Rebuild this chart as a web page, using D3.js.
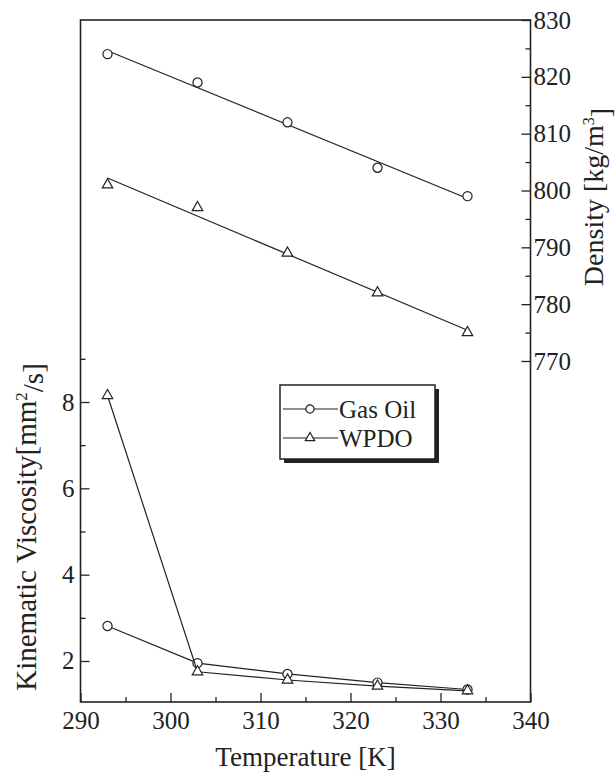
<!DOCTYPE html>
<html>
<head>
<meta charset="utf-8">
<script src="https://cdn.jsdelivr.net/npm/d3@7"></script>
<style>
    body { margin: 0; background: #fff; }
    #chart-area { width: 615px; height: 773px; }
    svg text { font-family: "Liberation Serif", Tinos, "Times New Roman", Times, "DejaVu Serif", serif; fill: #222; }
</style>
</head>
<body>
<div id="chart-area"></div>
<script>
// temperature [K]
let temperatures = [293, 303, 313, 323, 333];
// kinematic viscosity [mm2/s]
let viscGasOil = [2.81, 1.95, 1.70, 1.50, 1.34];
let viscWPDO = [8.15, 1.75, 1.56, 1.42, 1.31];
// density [kg/m3]
let densGasOil = [824, 819, 812, 804, 799];
let densWPDO = [801, 797, 789, 782, 775];

let seriesNames = ["Gas Oil", "WPDO"];

let xTicks = [290, 300, 310, 320, 330, 340];
let xMinorTicks = [295, 305, 315, 325, 335];
let viscTicks = [2, 4, 6, 8];
let viscMinorTicks = [3, 5, 7, 9];
let densTicks = [770, 780, 790, 800, 810, 820, 830];
let densMinorTicks = [775, 785, 795, 805, 815, 825];

const serif = "'Liberation Serif', Tinos, 'Times New Roman', Times, 'DejaVu Serif', serif";

class DualAxisVis {

    constructor(parentElement) {
        this.parentElement = parentElement;
        this.initVis();
    }

    initVis() {
        let vis = this;

        vis.margin = {top: 20, right: 84.5, bottom: 71, left: 80.5};
        vis.width = 615 - vis.margin.left - vis.margin.right;
        vis.height = 773 - vis.margin.top - vis.margin.bottom;

        vis.svg = d3.select("#" + vis.parentElement)
            .append("svg")
            .attr("width", 615)
            .attr("height", 773)
            .append("g")
            .attr("transform", "translate(" + vis.margin.left + "," + vis.margin.top + ")");

        vis.x = d3.scaleLinear().domain([290, 340]).range([0, vis.width]);
        vis.yVisc = d3.scaleLinear().domain([1.05, 16.85]).range([vis.height, 0]);
        vis.yDens = d3.scaleLinear().domain([710, 830]).range([vis.height, 0]);

        vis.symbols = [d3.symbolCircle, d3.symbolTriangle];
        vis.sizes = [66, 48];

        vis.drawAxes();
        vis.drawData();
        vis.drawLegend();
    }

    drawAxes() {
        let vis = this;

        // major + minor ticks, pointing inward
        vis.svg.append("g")
            .attr("class", "x-axis axis")
            .attr("transform", "translate(0," + vis.height + ")")
            .call(d3.axisBottom(vis.x).tickValues(xTicks).tickSizeInner(-9).tickSizeOuter(0).tickPadding(9));
        vis.svg.append("g")
            .attr("transform", "translate(0," + vis.height + ")")
            .call(d3.axisBottom(vis.x).tickValues(xMinorTicks).tickSizeInner(-5).tickSizeOuter(0).tickFormat(""));

        vis.svg.append("g")
            .attr("class", "y-axis axis")
            .call(d3.axisLeft(vis.yVisc).tickValues(viscTicks).tickSizeInner(-9).tickSizeOuter(0).tickPadding(6));
        vis.svg.append("g")
            .call(d3.axisLeft(vis.yVisc).tickValues(viscMinorTicks).tickSizeInner(-5).tickSizeOuter(0).tickFormat(""));

        vis.svg.append("g")
            .attr("class", "y2-axis axis")
            .attr("transform", "translate(" + vis.width + ",0)")
            .call(d3.axisRight(vis.yDens).tickValues(densTicks).tickSizeInner(-9).tickSizeOuter(0).tickPadding(3));
        vis.svg.append("g")
            .attr("transform", "translate(" + vis.width + ",0)")
            .call(d3.axisRight(vis.yDens).tickValues(densMinorTicks).tickSizeInner(-5).tickSizeOuter(0).tickFormat(""));

        vis.svg.selectAll(".domain").remove();
        vis.svg.selectAll(".axis").attr("font-family", null);
        vis.svg.selectAll(".tick line").attr("stroke", "#222").attr("stroke-width", 1.3);
        vis.svg.selectAll(".tick text")
            .style("font-family", serif)
            .style("font-size", "25px")
            .attr("fill", "#222");

        // frame
        vis.svg.append("rect")
            .attr("width", vis.width)
            .attr("height", vis.height)
            .attr("fill", "none")
            .attr("stroke", "#222")
            .attr("stroke-width", 1.6);

        // titles
        vis.svg.append("text")
            .attr("x", vis.width / 2)
            .attr("y", vis.height + 64)
            .attr("text-anchor", "middle")
            .style("font-family", serif)
            .style("font-size", "27px")
            .text("Temperature [K]");

        let yTitle = vis.svg.append("text")
            .attr("transform", "translate(" + (36 - vis.margin.left) + "," + (527 - vis.margin.top) + ") rotate(-90)")
            .attr("text-anchor", "middle")
            .style("font-family", serif)
            .style("font-size", "29px");
        yTitle.append("tspan").text("Kinematic Viscosity[mm");
        yTitle.append("tspan").attr("dy", "-0.55em").style("font-size", "17px").text("2");
        yTitle.append("tspan").attr("dy", "0.55em").text("/s]");

        let y2Title = vis.svg.append("text")
            .attr("transform", "translate(" + (603 - vis.margin.left) + "," + (197 - vis.margin.top) + ") rotate(-90)")
            .attr("text-anchor", "middle")
            .style("font-family", serif)
            .style("font-size", "28px");
        y2Title.append("tspan").text("Density [kg/m");
        y2Title.append("tspan").attr("dy", "-0.55em").style("font-size", "16px").text("3");
        y2Title.append("tspan").attr("dy", "0.55em").text("]");
    }

    drawData() {
        let vis = this;

        let visc = [viscGasOil, viscWPDO];
        let dens = [densGasOil, densWPDO];

        let line = d3.line()
            .x(function(d) { return vis.x(d[0]); })
            .y(function(d) { return d[1]; });

        for (let s = 0; s < 2; s++) {
            // viscosity: point to point
            let vPts = temperatures.map(function(t, i) { return [t, vis.yVisc(visc[s][i])]; });
            vis.svg.append("path")
                .attr("d", line(vPts))
                .attr("fill", "none")
                .attr("stroke", "#222")
                .attr("stroke-width", 1.2);

            // density: linear fit
            let xm = d3.mean(temperatures), ym = d3.mean(dens[s]);
            let num = 0, den = 0;
            for (let i = 0; i < temperatures.length; i++) {
                num += (temperatures[i] - xm) * (dens[s][i] - ym);
                den += (temperatures[i] - xm) * (temperatures[i] - xm);
            }
            let slope = num / den;
            let ends = [temperatures[0], temperatures[temperatures.length - 1]];
            let fitPts = ends.map(function(t) { return [t, vis.yDens(ym + slope * (t - xm))]; });
            vis.svg.append("path")
                .attr("d", line(fitPts))
                .attr("fill", "none")
                .attr("stroke", "#222")
                .attr("stroke-width", 1.2);

            let sym = d3.symbol().type(vis.symbols[s]).size(vis.sizes[s]);

            vis.svg.selectAll(".visc-marker-" + s)
                .data(vPts)
                .enter().append("path")
                .attr("class", "visc-marker-" + s)
                .attr("transform", function(d) { return "translate(" + vis.x(d[0]) + "," + d[1] + ")"; })
                .attr("d", sym)
                .attr("fill", "#fff")
                .attr("stroke", "#222")
                .attr("stroke-width", 1.2);

            vis.svg.selectAll(".dens-marker-" + s)
                .data(dens[s])
                .enter().append("path")
                .attr("class", "dens-marker-" + s)
                .attr("transform", function(d, i) { return "translate(" + vis.x(temperatures[i]) + "," + vis.yDens(d) + ")"; })
                .attr("d", sym)
                .attr("fill", "#fff")
                .attr("stroke", "#222")
                .attr("stroke-width", 1.2);
        }
    }

    drawLegend() {
        let vis = this;

        let lg = vis.svg.append("g")
            .attr("transform", "translate(" + (280 - vis.margin.left) + "," + (385 - vis.margin.top) + ")");

        lg.append("rect")
            .attr("x", 4).attr("y", 4)
            .attr("width", 155).attr("height", 74)
            .attr("fill", "#222");
        lg.append("rect")
            .attr("width", 155).attr("height", 74)
            .attr("fill", "#fff")
            .attr("stroke", "#222")
            .attr("stroke-width", 1.5);

        seriesNames.forEach(function(name, i) {
            let yy = 24 + i * 29;
            lg.append("line")
                .attr("x1", 3).attr("x2", 58)
                .attr("y1", yy).attr("y2", yy)
                .attr("stroke", "#222").attr("stroke-width", 1.2);
            lg.append("path")
                .attr("transform", "translate(30," + yy + ")")
                .attr("d", d3.symbol().type(vis.symbols[i]).size(vis.sizes[i] * 0.8))
                .attr("fill", "#fff")
                .attr("stroke", "#222")
                .attr("stroke-width", 1.2);
            lg.append("text")
                .attr("x", 59)
                .attr("y", yy)
                .attr("dy", "0.35em")
                .style("font-family", serif)
                .style("font-size", "25px")
                .text(name);
        });
    }
}

let chart = new DualAxisVis("chart-area");
</script>
</body>
</html>
